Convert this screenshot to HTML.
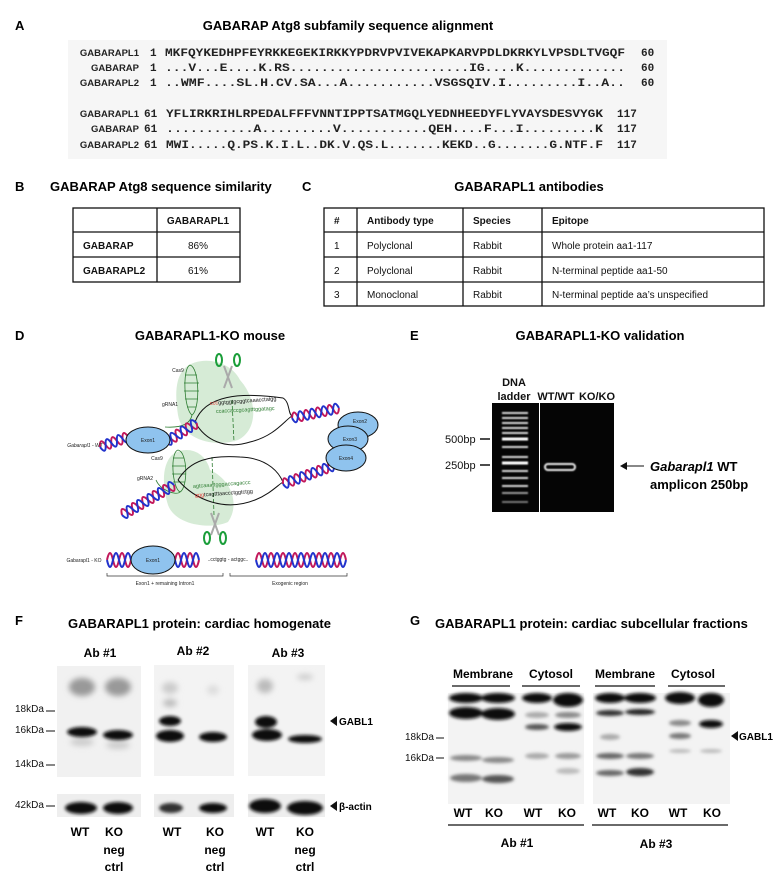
<!DOCTYPE html>
<html><head><meta charset="utf-8"><style>
html,body{margin:0;padding:0;background:#fff;}
svg{display:block;font-family:"Liberation Sans",sans-serif;}
.t{font-weight:bold;font-size:13px;}
.L{font-weight:bold;font-size:13px;}
.m{font-family:"Liberation Mono",monospace;font-size:11px;font-weight:bold;fill:#222;}
.tb{font-size:10px;fill:#111;}
.tbb{font-size:10px;font-weight:bold;fill:#111;}
.s{font-size:5px;fill:#222;}
.lb{font-size:12px;font-weight:bold;}
.r{fill:none;stroke:#c2185b;stroke-width:2;}
.u{fill:none;stroke:#2233cc;stroke-width:2;}
</style></head><body>
<svg width="774" height="893" viewBox="0 0 774 893" xmlns="http://www.w3.org/2000/svg">
<defs>
<filter id="b1" x="-50%" y="-50%" width="200%" height="200%"><feGaussianBlur stdDeviation="1.6"/></filter>
<filter id="b2" x="-50%" y="-50%" width="200%" height="200%"><feGaussianBlur stdDeviation="3"/></filter>
<filter id="b0" x="-50%" y="-50%" width="200%" height="200%"><feGaussianBlur stdDeviation="0.8"/></filter>
</defs>

<!-- Panel A -->
<text x="15" y="30" class="L">A</text>
<text x="348" y="30" class="t" text-anchor="middle">GABARAP Atg8 subfamily sequence alignment</text>
<rect x="68" y="40" width="599" height="119" fill="#f6f6f6"/>
<g class="m">
<text x="139" y="56" text-anchor="end" style="font-family:'Liberation Sans';font-size:9.5px">GABARAPL1</text>
<text x="139" y="71" text-anchor="end" style="font-family:'Liberation Sans';font-size:9.5px">GABARAP</text>
<text x="139" y="86" text-anchor="end" style="font-family:'Liberation Sans';font-size:9.5px">GABARAPL2</text>
<text x="150" y="56">1</text><text x="150" y="71">1</text><text x="150" y="86">1</text>
<text x="165" y="56" textLength="460" lengthAdjust="spacingAndGlyphs">MKFQYKEDHPFEYRKKEGEKIRKKYPDRVPVIVEKAPKARVPDLDKRKYLVPSDLTVGQF</text>
<text x="165" y="71" textLength="460" lengthAdjust="spacingAndGlyphs">...V...E....K.RS.......................IG....K.............</text>
<text x="165" y="86" textLength="460" lengthAdjust="spacingAndGlyphs">..WMF....SL.H.CV.SA...A...........VSGSQIV.I.........I..A..</text>
<text x="641" y="56">60</text><text x="641" y="71">60</text><text x="641" y="86">60</text>
<text x="139" y="117" text-anchor="end" style="font-family:'Liberation Sans';font-size:9.5px">GABARAPL1</text>
<text x="139" y="132" text-anchor="end" style="font-family:'Liberation Sans';font-size:9.5px">GABARAP</text>
<text x="139" y="148" text-anchor="end" style="font-family:'Liberation Sans';font-size:9.5px">GABARAPL2</text>
<text x="144" y="117">61</text><text x="144" y="132">61</text><text x="144" y="148">61</text>
<text x="166" y="117" textLength="437" lengthAdjust="spacingAndGlyphs">YFLIRKRIHLRPEDALFFFVNNTIPPTSATMGQLYEDNHEEDYFLYVAYSDESVYGK</text>
<text x="166" y="132" textLength="437" lengthAdjust="spacingAndGlyphs">...........A.........V...........QEH....F...I.........K</text>
<text x="166" y="148" textLength="437" lengthAdjust="spacingAndGlyphs">MWI.....Q.PS.K.I.L..DK.V.QS.L.......KEKD..G.......G.NTF.F</text>
<text x="617" y="117">117</text><text x="617" y="132">117</text><text x="617" y="148">117</text>
</g>

<!-- Panel B -->
<text x="15" y="191" class="L">B</text>
<text x="50" y="191" class="t">GABARAP Atg8 sequence similarity</text>
<g fill="none" stroke="#111" stroke-width="1.3">
<rect x="73" y="208" width="167" height="74"/>
<line x1="157" y1="208" x2="157" y2="282"/>
<line x1="73" y1="232" x2="240" y2="232"/><line x1="73" y1="257" x2="240" y2="257"/>
</g>
<text x="198" y="224" class="tbb" text-anchor="middle">GABARAPL1</text>
<text x="83" y="249" class="tbb">GABARAP</text><text x="198" y="249" class="tb" text-anchor="middle">86%</text>
<text x="83" y="274" class="tbb">GABARAPL2</text><text x="198" y="274" class="tb" text-anchor="middle">61%</text>

<!-- Panel C -->
<text x="302" y="191" class="L">C</text>
<text x="529" y="191" class="t" text-anchor="middle">GABARAPL1 antibodies</text>
<g fill="none" stroke="#111" stroke-width="1.3">
<rect x="324" y="208" width="440" height="98"/>
<line x1="357" y1="208" x2="357" y2="306"/><line x1="463" y1="208" x2="463" y2="306"/><line x1="542" y1="208" x2="542" y2="306"/>
<line x1="324" y1="232" x2="764" y2="232"/><line x1="324" y1="257" x2="764" y2="257"/><line x1="324" y1="282" x2="764" y2="282"/>
</g>
<g class="tb">
<text x="334" y="224" font-weight="bold">#</text><text x="367" y="224" font-weight="bold">Antibody type</text><text x="473" y="224" font-weight="bold">Species</text><text x="552" y="224" font-weight="bold">Epitope</text>
<text x="334" y="249">1</text><text x="367" y="249">Polyclonal</text><text x="473" y="249">Rabbit</text><text x="552" y="249">Whole protein aa1-117</text>
<text x="334" y="274">2</text><text x="367" y="274">Polyclonal</text><text x="473" y="274">Rabbit</text><text x="552" y="274">N-terminal peptide aa1-50</text>
<text x="334" y="298">3</text><text x="367" y="298">Monoclonal</text><text x="473" y="298">Rabbit</text><text x="552" y="298">N-terminal peptide aa’s unspecified</text>
</g>

<!-- Panel D -->
<text x="15" y="340" class="L">D</text>
<text x="210" y="340" class="t" text-anchor="middle">GABARAPL1-KO mouse</text>
<path d="M185 368 C200 355 230 360 240 380 C258 400 258 430 238 440 C215 448 182 440 178 415 C175 395 175 378 185 368Z" fill="#cfe8cf" opacity="0.85"/>
<path d="M172 455 C185 445 205 450 210 470 C232 480 240 505 228 522 C210 530 175 525 168 505 C162 485 162 465 172 455Z" fill="#cfe8cf" opacity="0.85"/>
<g stroke="#2e7d32" stroke-width="0.8" fill="none">
<path d="M190 365 C200 368 200 410 192 415 C184 410 182 368 190 365Z"/>
<path d="M185 375 h12 M184 383 h15 M184 391 h15 M185 399 h13 M187 407 h9"/>
<path d="M192 415 C190 425 180 428 165 427"/>
<path d="M178 450 C188 452 188 488 180 492 C172 488 170 452 178 450Z"/>
<path d="M173 458 h11 M172 466 h14 M172 474 h14 M173 482 h12"/>
<path d="M180 492 C176 496 160 490 156 480"/>
<line x1="232" y1="400" x2="234" y2="442" stroke-dasharray="4,2"/>
<line x1="212" y1="457" x2="214" y2="515" stroke-dasharray="4,2"/>
</g>
<g stroke="#111" stroke-width="1" fill="none">
<path d="M195 422 C205 395 240 392 283 398 C290 402 288 414 292 416"/>
<path d="M195 422 C205 440 225 450 250 442 C275 436 285 420 292 416"/>
<path d="M178 480 C190 460 210 455 240 457 C270 458 280 475 283 482"/>
<path d="M178 480 C195 500 225 512 255 500 C270 494 278 485 283 482"/>
</g>
<text x="210" y="405" font-size="5.5" fill="#111" transform="rotate(-4 210 405)"><tspan fill="#e53935">ccc</tspan>ggtggtgcggtcaaacctatgg</text>
<text x="216" y="413" font-size="5.5" fill="#2e7d32" transform="rotate(-3 216 413)">ccaccaccgcagtttggatagc</text>
<text x="193" y="488" font-size="5.5" fill="#2e7d32" transform="rotate(-4 193 488)">agtcaaattgggaccagaccc</text>
<text x="195" y="497" font-size="5.5" fill="#111" transform="rotate(-4 195 497)"><tspan fill="#e53935">ggg</tspan>tcagtttaaccctggtctgg</text>
<g>
<path d="M224 366 L232 388 M232 366 L224 388" stroke="#aaa" stroke-width="2"/>
<ellipse cx="219" cy="360" rx="3" ry="6" fill="none" stroke="#1b9e3a" stroke-width="2"/>
<ellipse cx="237" cy="360" rx="3" ry="6" fill="none" stroke="#1b9e3a" stroke-width="2"/>
<path d="M211 513 L219 535 M219 513 L211 535" stroke="#aaa" stroke-width="2"/>
<ellipse cx="207" cy="538" rx="3" ry="6" fill="none" stroke="#1b9e3a" stroke-width="2"/>
<ellipse cx="223" cy="538" rx="3" ry="6" fill="none" stroke="#1b9e3a" stroke-width="2"/>
</g>
<!-- helices -->
<g transform="translate(100 447) rotate(-20)">
<path class="r" d="M0 0 q3 -10 6 0 t6 0 t6 0 t6 0 t6 0"/><path class="u" d="M0 0 q3 10 6 0 t6 0 t6 0 t6 0 t6 0"/></g>
<g transform="translate(166 442) rotate(-32)">
<path class="r" d="M0 0 q3 -10 6 0 t6 0 t6 0 t6 0 t6 0 t6 0"/><path class="u" d="M0 0 q3 10 6 0 t6 0 t6 0 t6 0 t6 0 t6 0"/></g>
<g transform="translate(292 418) rotate(-12)">
<path class="r" d="M0 0 q3 -10 6 0 t6 0 t6 0 t6 0 t6 0 t6 0 t6 0 t6 0"/><path class="u" d="M0 0 q3 10 6 0 t6 0 t6 0 t6 0 t6 0 t6 0 t6 0 t6 0"/></g>
<g transform="translate(283 484) rotate(-20)">
<path class="r" d="M0 0 q3 -10 6 0 t6 0 t6 0 t6 0 t6 0 t6 0 t6 0 t6 0 t6 0"/><path class="u" d="M0 0 q3 10 6 0 t6 0 t6 0 t6 0 t6 0 t6 0 t6 0 t6 0 t6 0"/></g>
<g transform="translate(122 515) rotate(-30)">
<path class="r" d="M0 0 q3 -10 6 0 t6 0 t6 0 t6 0 t6 0 t6 0 t6 0 t6 0 t6 0 t6 0"/><path class="u" d="M0 0 q3 10 6 0 t6 0 t6 0 t6 0 t6 0 t6 0 t6 0 t6 0 t6 0 t6 0"/></g>
<g fill="#8fc3ee" stroke="#111" stroke-width="1">
<ellipse cx="148" cy="440" rx="22" ry="13"/>
<ellipse cx="358" cy="425" rx="20" ry="13"/>
<ellipse cx="348" cy="439" rx="20" ry="13"/>
<ellipse cx="346" cy="458" rx="20" ry="13"/>
</g>
<g class="s" text-anchor="middle">
<text x="148" y="442">Exon1</text><text x="360" y="423">Exon2</text><text x="350" y="441">Exon3</text><text x="346" y="460">Exon4</text>
<text x="178" y="372">Cas9</text><text x="170" y="406">gRNA1</text><text x="157" y="460">Cas9</text><text x="145" y="480">gRNA2</text>
<text x="85" y="447" font-style="italic">Gabarapl1 - WT</text>
</g>
<!-- KO row -->
<text x="84" y="562" class="s" text-anchor="middle">Gabarapl1 - KO</text>
<g transform="translate(107 560)">
<path class="r" d="M0 0 q3 -14 6 0 t6 0 t6 0 t6 0"/><path class="u" d="M0 0 q3 14 6 0 t6 0 t6 0 t6 0"/></g>
<g transform="translate(175 560)">
<path class="r" d="M0 0 q3 -14 6 0 t6 0 t6 0 t6 0"/><path class="u" d="M0 0 q3 14 6 0 t6 0 t6 0 t6 0"/></g>
<g transform="translate(256 560)">
<path class="r" d="M0 0 q3 -14 6 0 t6 0 t6 0 t6 0 t6 0 t6 0 t6 0 t6 0 t6 0 t6 0 t6 0 t6 0 t6 0 t6 0 t6 0"/><path class="u" d="M0 0 q3 14 6 0 t6 0 t6 0 t6 0 t6 0 t6 0 t6 0 t6 0 t6 0 t6 0 t6 0 t6 0 t6 0 t6 0 t6 0"/></g>
<ellipse cx="153" cy="560" rx="22" ry="14" fill="#8fc3ee" stroke="#111"/>
<text x="153" y="562" class="s" text-anchor="middle">Exon1</text>
<text x="228" y="561" class="s" text-anchor="middle">..cctggtg - actggc..</text>
<path d="M107 573 v3 h116 v-3 M230 573 v3 h117 v-3" fill="none" stroke="#333" stroke-width="0.7"/>
<text x="165" y="585" class="s" text-anchor="middle">Exon1 + remaining Intron1</text>
<text x="290" y="585" class="s" text-anchor="middle">Exogenic region</text>

<!-- Panel E -->
<text x="410" y="340" class="L">E</text>
<text x="600" y="340" class="t" text-anchor="middle">GABARAPL1-KO validation</text>
<rect x="492" y="403" width="122" height="109" fill="#050505"/>
<line x1="539.5" y1="403" x2="539.5" y2="512" stroke="#fff" stroke-width="1"/>
<g stroke="#d8d8d8" stroke-width="2" filter="url(#b0)">
<line x1="502" y1="413" x2="528" y2="413"/><line x1="502" y1="418" x2="528" y2="418"/>
<line x1="502" y1="423" x2="528" y2="423"/><line x1="502" y1="428" x2="528" y2="428"/>
<line x1="502" y1="433" x2="528" y2="433"/><line x1="502" y1="439" x2="528" y2="439" stroke="#fff" stroke-width="3"/>
<line x1="502" y1="447" x2="528" y2="447"/><line x1="502" y1="457" x2="528" y2="457"/>
<line x1="502" y1="463" x2="528" y2="463" stroke="#fff" stroke-width="3"/><line x1="502" y1="471" x2="528" y2="471"/>
<line x1="502" y1="478" x2="528" y2="478"/><line x1="502" y1="486" x2="528" y2="486"/>
<line x1="502" y1="493" x2="528" y2="493" stroke="#999"/><line x1="502" y1="502" x2="528" y2="502" stroke="#777"/>
</g>
<rect x="545" y="464" width="30" height="6" rx="3" fill="none" stroke="#eee" stroke-width="2" filter="url(#b0)"/>
<g font-size="11" font-weight="bold" fill="#111" text-anchor="middle">
<text x="514" y="386">DNA</text><text x="514" y="400">ladder</text><text x="556" y="400">WT/WT</text><text x="597" y="400">KO/KO</text>
</g>
<g font-size="11" fill="#111"><text x="445" y="443">500bp</text><text x="445" y="469">250bp</text></g>
<line x1="480" y1="439" x2="490" y2="439" stroke="#111" stroke-width="1.5"/>
<line x1="480" y1="465" x2="490" y2="465" stroke="#111" stroke-width="1.5"/>
<line x1="644" y1="466" x2="626" y2="466" stroke="#111" stroke-width="1"/>
<path d="M620 466 l7 -4 v8z" fill="#111"/>
<text x="650" y="471" font-size="13" font-weight="bold"><tspan font-style="italic">Gabarapl1</tspan> WT</text>
<text x="650" y="489" font-size="13" font-weight="bold">amplicon 250bp</text>

<!-- Panel F -->
<text x="15" y="625" class="L">F</text>
<text x="68" y="628" class="t">GABARAPL1 protein: cardiac homogenate</text>
<g class="lb" text-anchor="middle"><text x="100" y="657">Ab #1</text><text x="193" y="655">Ab #2</text><text x="288" y="657">Ab #3</text></g>
<rect x="57" y="666" width="84" height="111" fill="#f1f1f1"/>
<rect x="154" y="665" width="80" height="111" fill="#f3f3f3"/>
<rect x="248" y="665" width="77" height="111" fill="#f3f3f3"/>
<g filter="url(#b2)" fill="#999">
<ellipse cx="82" cy="687" rx="13" ry="9"/><ellipse cx="118" cy="687" rx="13" ry="9"/>
<ellipse cx="170" cy="688" rx="8" ry="6" fill="#ccc"/><ellipse cx="170" cy="703" rx="7" ry="4" fill="#bbb"/>
<ellipse cx="213" cy="690" rx="6" ry="5" fill="#ddd"/>
<ellipse cx="265" cy="686" rx="8" ry="7" fill="#bbb"/><ellipse cx="305" cy="677" rx="8" ry="3" fill="#ccc"/>
<ellipse cx="82" cy="742" rx="12" ry="4" fill="#ccc"/><ellipse cx="118" cy="745" rx="12" ry="4" fill="#ccc"/>
</g>
<g filter="url(#b1)" fill="#111">
<ellipse cx="82" cy="732" rx="15" ry="5"/><ellipse cx="118" cy="735" rx="15" ry="5"/>
<ellipse cx="170" cy="721" rx="11" ry="5"/><ellipse cx="170" cy="736" rx="14" ry="6"/><ellipse cx="213" cy="737" rx="14" ry="5"/>
<ellipse cx="266" cy="722" rx="11" ry="6"/><ellipse cx="267" cy="735" rx="15" ry="6"/><ellipse cx="305" cy="739" rx="17" ry="4"/>
</g>
<g font-size="10" fill="#111"><text x="15" y="712">18kDa</text><text x="15" y="733">16kDa</text><text x="15" y="767">14kDa</text><text x="15" y="808">42kDa</text></g>
<g stroke="#111" stroke-width="1"><line x1="46" y1="711" x2="55" y2="711"/><line x1="46" y1="731" x2="55" y2="731"/><line x1="46" y1="765" x2="55" y2="765"/><line x1="46" y1="806" x2="55" y2="806"/></g>
<path d="M330 721 l7 -5 v10z" fill="#111"/><text x="339" y="725" font-size="10" font-weight="bold">GABL1</text>
<rect x="57" y="794" width="84" height="23" fill="#eee"/>
<rect x="154" y="794" width="80" height="23" fill="#eee"/>
<rect x="248" y="794" width="77" height="23" fill="#eee"/>
<g filter="url(#b1)" fill="#111">
<ellipse cx="81" cy="808" rx="16" ry="6"/><ellipse cx="118" cy="808" rx="15" ry="6"/>
<ellipse cx="171" cy="808" rx="12" ry="5" fill="#333"/><ellipse cx="213" cy="808" rx="14" ry="5"/>
<ellipse cx="265" cy="806" rx="16" ry="7"/><ellipse cx="305" cy="808" rx="18" ry="7"/>
</g>
<path d="M330 806 l7 -5 v10z" fill="#111"/><text x="339" y="810" font-size="10" font-weight="bold">β-actin</text>
<g class="lb" text-anchor="middle">
<text x="80" y="836">WT</text><text x="114" y="836">KO</text><text x="114" y="854">neg</text><text x="114" y="871">ctrl</text>
<text x="172" y="836">WT</text><text x="215" y="836">KO</text><text x="215" y="854">neg</text><text x="215" y="871">ctrl</text>
<text x="265" y="836">WT</text><text x="305" y="836">KO</text><text x="305" y="854">neg</text><text x="305" y="871">ctrl</text>
</g>

<!-- Panel G -->
<text x="410" y="625" class="L">G</text>
<text x="435" y="628" class="t">GABARAPL1 protein: cardiac subcellular fractions</text>
<g class="lb" text-anchor="middle"><text x="483" y="678">Membrane</text><text x="551" y="678">Cytosol</text><text x="625" y="678">Membrane</text><text x="693" y="678">Cytosol</text></g>
<g stroke="#111" stroke-width="1.3"><line x1="452" y1="686" x2="510" y2="686"/><line x1="522" y1="686" x2="580" y2="686"/><line x1="595" y1="686" x2="655" y2="686"/><line x1="668" y1="686" x2="725" y2="686"/></g>
<rect x="448" y="693" width="136" height="111" fill="#f3f3f3"/>
<rect x="593" y="693" width="137" height="111" fill="#f3f3f3"/>
<g filter="url(#b1)" fill="#111">
<ellipse cx="466" cy="698" rx="17" ry="5"/><ellipse cx="498" cy="698" rx="17" ry="5"/>
<ellipse cx="466" cy="713" rx="17" ry="6"/><ellipse cx="498" cy="714" rx="17" ry="6"/>
<ellipse cx="537" cy="698" rx="15" ry="5"/><ellipse cx="568" cy="700" rx="15" ry="7"/>
<ellipse cx="537" cy="727" rx="12" ry="3" fill="#555"/><ellipse cx="568" cy="727" rx="14" ry="4"/>
<ellipse cx="537" cy="715" rx="12" ry="3" fill="#aaa"/><ellipse cx="568" cy="715" rx="13" ry="3" fill="#888"/>
<ellipse cx="466" cy="758" rx="16" ry="3" fill="#888"/><ellipse cx="498" cy="760" rx="16" ry="3" fill="#888"/>
<ellipse cx="466" cy="778" rx="16" ry="4" fill="#777"/><ellipse cx="498" cy="779" rx="16" ry="4" fill="#555"/>
<ellipse cx="537" cy="756" rx="12" ry="3" fill="#aaa"/><ellipse cx="568" cy="756" rx="13" ry="3" fill="#999"/>
<ellipse cx="568" cy="771" rx="12" ry="3" fill="#bbb"/>
<ellipse cx="610" cy="698" rx="15" ry="5"/><ellipse cx="640" cy="698" rx="16" ry="5"/>
<ellipse cx="610" cy="713" rx="14" ry="3" fill="#333"/><ellipse cx="640" cy="712" rx="15" ry="3" fill="#222"/>
<ellipse cx="680" cy="698" rx="15" ry="6"/><ellipse cx="711" cy="700" rx="13" ry="7"/>
<ellipse cx="680" cy="723" rx="11" ry="3" fill="#888"/><ellipse cx="711" cy="724" rx="12" ry="4"/>
<ellipse cx="680" cy="736" rx="11" ry="3" fill="#777"/>
<ellipse cx="610" cy="737" rx="10" ry="3" fill="#aaa"/>
<ellipse cx="610" cy="756" rx="14" ry="3" fill="#666"/><ellipse cx="640" cy="756" rx="14" ry="3" fill="#777"/>
<ellipse cx="610" cy="773" rx="14" ry="3" fill="#666"/><ellipse cx="640" cy="772" rx="14" ry="4" fill="#333"/>
<ellipse cx="680" cy="751" rx="11" ry="2" fill="#bbb"/><ellipse cx="711" cy="751" rx="11" ry="2" fill="#bbb"/>
</g>
<g font-size="10" fill="#111"><text x="405" y="740">18kDa</text><text x="405" y="761">16kDa</text></g>
<g stroke="#111" stroke-width="1"><line x1="436" y1="738" x2="444" y2="738"/><line x1="436" y1="758" x2="444" y2="758"/></g>
<path d="M731 736 l7 -5 v10z" fill="#111"/><text x="739" y="740" font-size="10" font-weight="bold">GABL1</text>
<g class="lb" text-anchor="middle">
<text x="463" y="817">WT</text><text x="494" y="817">KO</text><text x="533" y="817">WT</text><text x="567" y="817">KO</text>
<text x="607" y="817">WT</text><text x="640" y="817">KO</text><text x="678" y="817">WT</text><text x="712" y="817">KO</text>
</g>
<g stroke="#111" stroke-width="1.3"><line x1="448" y1="825" x2="584" y2="825"/><line x1="592" y1="825" x2="728" y2="825"/></g>
<g class="lb" text-anchor="middle"><text x="517" y="847">Ab #1</text><text x="656" y="848">Ab #3</text></g>
</svg>
</body></html>
